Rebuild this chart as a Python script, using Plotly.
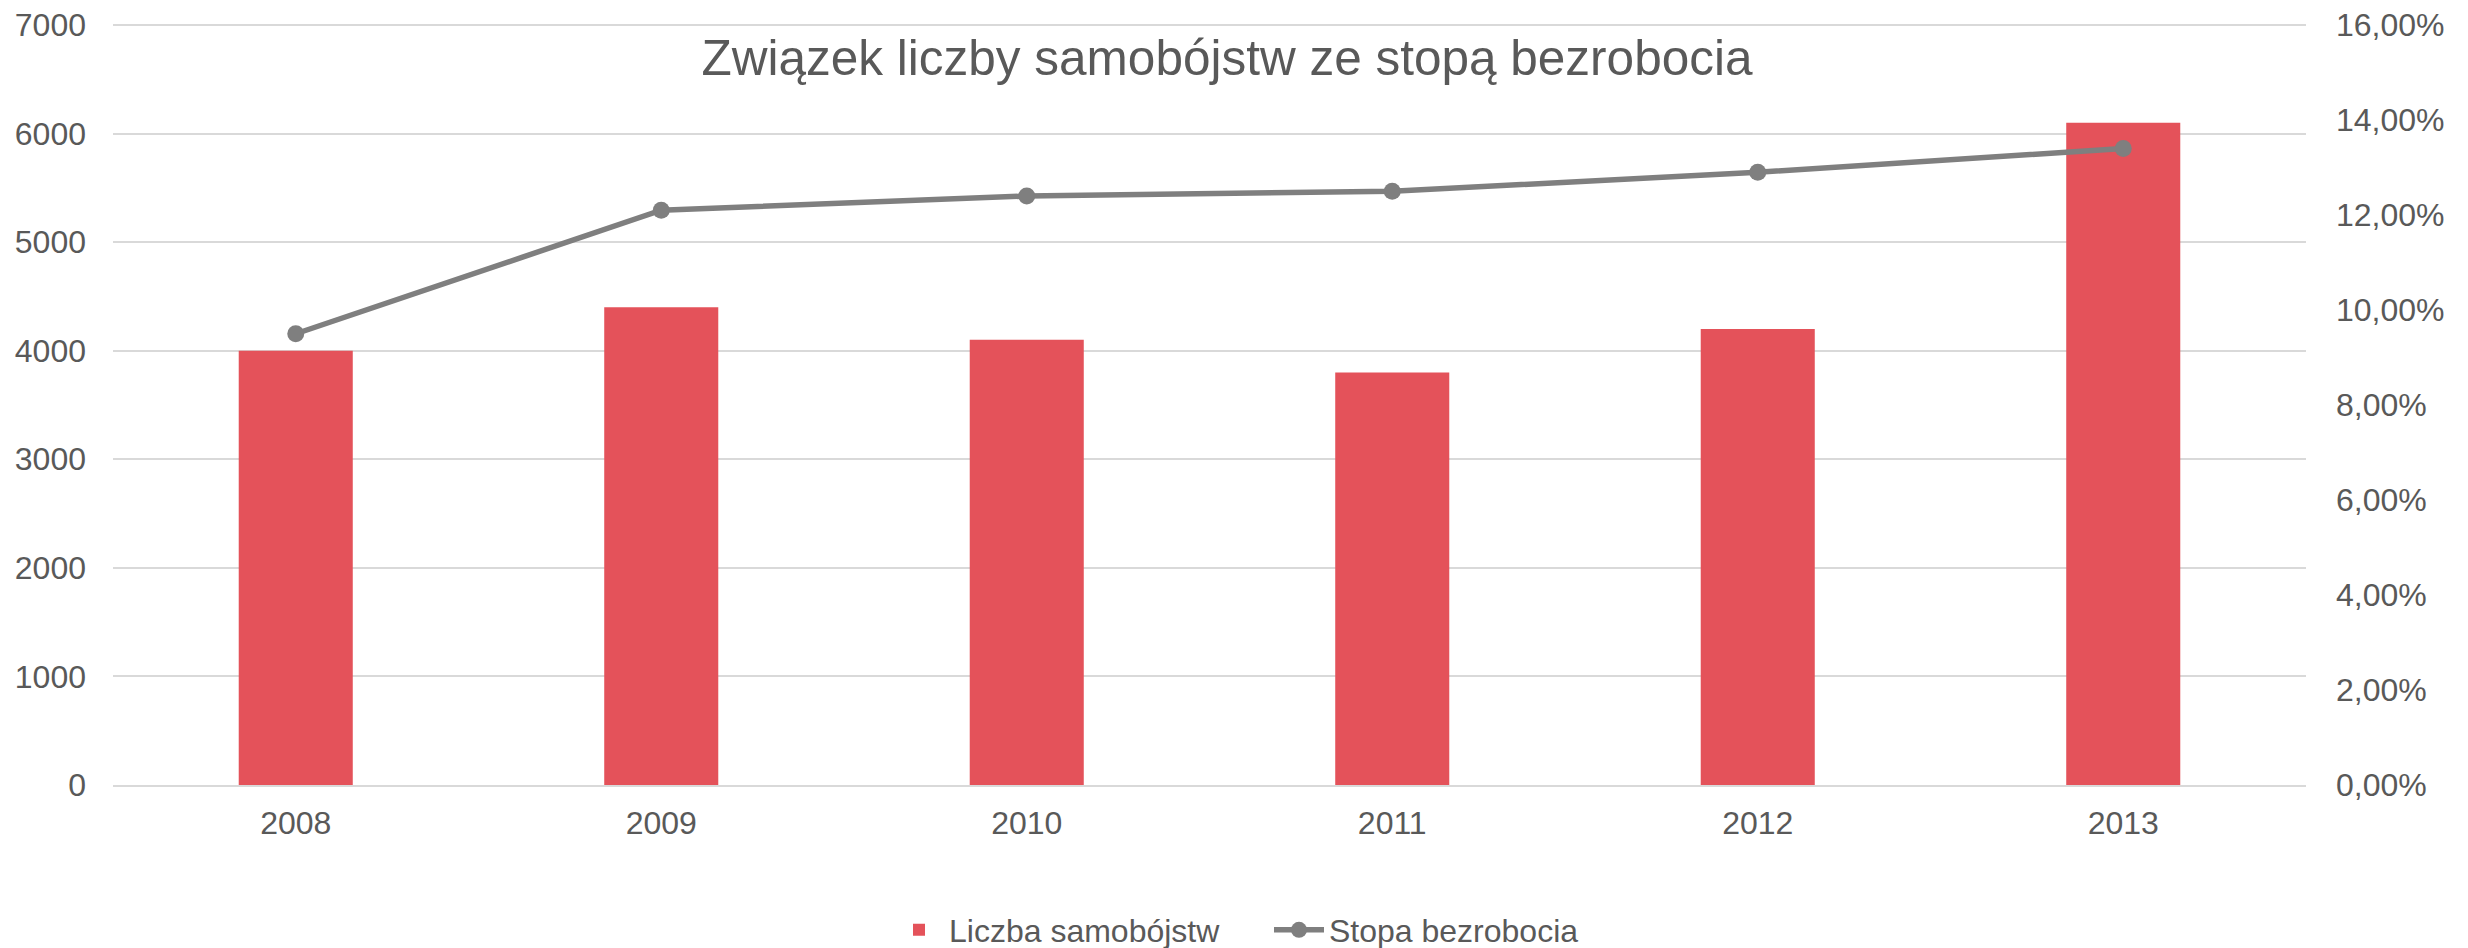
import plotly.graph_objects as go

years = ["2008", "2009", "2010", "2011", "2012", "2013"]
suicides = [4000, 4400, 4100, 3800, 4200, 6100]
unemployment = [0.095, 0.121, 0.124, 0.125, 0.129, 0.134]
left_ticks = [0, 1000, 2000, 3000, 4000, 5000, 6000, 7000]
right_ticks = [0.0, 0.02, 0.04, 0.06, 0.08, 0.10, 0.12, 0.14, 0.16]

FONT = "Liberation Sans, Arial, sans-serif"
TXT = "#595959"
GRID = "#D9D9D9"

# plot area extends 2px above the top gridline so it is not clipped
TOP_PAD = 762 / 760

fig = go.Figure()
fig.add_trace(go.Bar(
    x=years, y=suicides, name="Liczba samobójstw",
    marker=dict(color="#E4525A", line=dict(width=0)),
    yaxis="y",
))
fig.add_trace(go.Scatter(
    x=years, y=unemployment, name="Stopa bezrobocia",
    mode="lines+markers",
    line=dict(color="#7F7F7F", width=5.5),
    marker=dict(color="#7F7F7F", size=17),
    yaxis="y2",
))

fig.update_layout(
    width=2468, height=948,
    margin=dict(l=113, r=162, t=23, b=163, autoexpand=False),
    paper_bgcolor="white", plot_bgcolor="white",
    separators=",.",
    font=dict(family=FONT, size=32, color=TXT),
    bargap=0.688,
    title=dict(
        text="Związek liczby samobójstw ze stopą bezrobocia",
        font=dict(family=FONT, size=49.5, color=TXT),
        x=1227 / 2468, xref="container", xanchor="center",
        y=1 - 58 / 948, yref="container", yanchor="middle",
    ),
    xaxis=dict(
        showgrid=False, showline=True, linecolor=GRID, linewidth=2,
        ticks="", ticklabelstandoff=9,
        tickfont=dict(family=FONT, size=32, color=TXT),
    ),
    yaxis=dict(
        range=[0, 7000 * TOP_PAD], tickvals=left_ticks, tickformat="d",
        showgrid=True, gridcolor=GRID, gridwidth=2,
        zeroline=False, showline=False, ticks="",
        ticklabelstandoff=26,
        tickfont=dict(family=FONT, size=32, color=TXT),
    ),
    yaxis2=dict(
        range=[0, 0.16 * TOP_PAD], tickvals=right_ticks, tickformat=".2%",
        overlaying="y", side="right",
        showgrid=False, zeroline=False, showline=False, ticks="",
        ticklabelstandoff=29,
        tickfont=dict(family=FONT, size=32, color=TXT),
    ),
    legend=dict(
        orientation="h", xref="container", yref="container",
        x=1269 / 2468, xanchor="center", y=1 - 930 / 948, yanchor="middle",
        font=dict(family=FONT, size=32, color=TXT),
        traceorder="normal", itemwidth=50,
        entrywidth=315, entrywidthmode="pixels",
    ),
    showlegend=True,
)

fig.write_html(
    "out.html",
    config={"displayModeBar": False},
    post_script="document.body.style.margin='0';document.body.style.overflow='hidden';",
)
